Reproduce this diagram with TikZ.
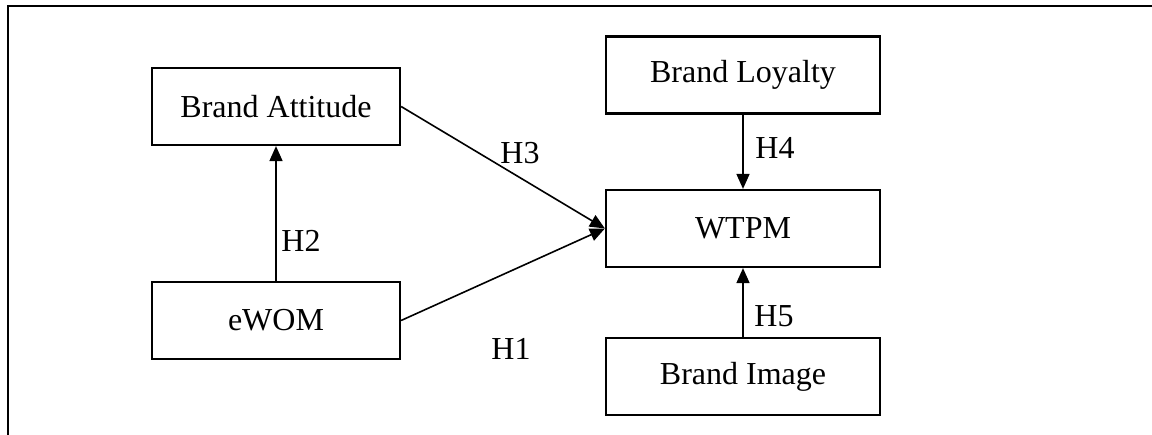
\documentclass[tikz,border=0pt]{standalone}
\usepackage{fontspec}
\setmainfont{Liberation Serif}
\usetikzlibrary{arrows.meta}
\begin{document}
\begin{tikzpicture}[x=1pt,y=-1pt,
  box/.style={draw,line width=2.2pt,minimum width=248pt,minimum height=77pt,inner sep=0pt,font=\fontsize{32}{38}\selectfont},
  rbox/.style={box,minimum width=274pt},
  link/.style={line width=1.6pt,-{Triangle[length=15pt,width=13pt]}},
  lab/.style={font=\fontsize{32}{38}\selectfont,inner sep=0pt}]
\useasboundingbox (0,0) rectangle (1152,435);
\draw[line width=2pt] (8,435) -- (8,6) -- (1152,6);
\node[box] (BA) at (276,106.5) {Brand Attitude};
\node[box] (EW) at (276,320.5) {eWOM};
\node[rbox] (BL) at (743,75) {Brand Loyalty};
\node[rbox] (WT) at (743,228.5) {WTPM};
\node[rbox] (BI) at (743,376.5) {Brand Image};
\draw[link] (EW.north) -- (BA.south);
\draw[link] (BA.east) -- (WT.west);
\draw[link] (EW.east) -- (WT.west);
\draw[link] (BL.south) -- (WT.north);
\draw[link] (BI.north) -- (WT.south);
\node[lab] (h1) at (511,349) {H1};
\node[lab] (h2) at (301,241) {H2};
\node[lab] (h3) at (520,153) {H3};
\node[lab] (h4) at (775,148) {H4};
\node[lab] (h5) at (774,316) {H5};
\end{tikzpicture}
\end{document}
